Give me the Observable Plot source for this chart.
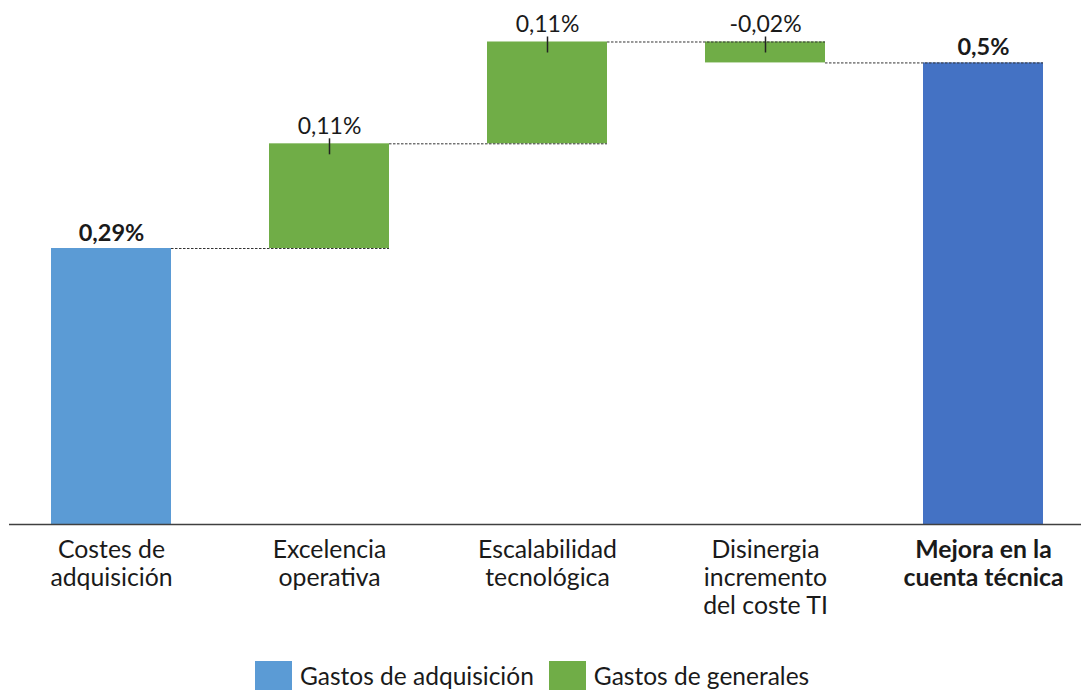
<!DOCTYPE html>
<html>
<head>
<meta charset="utf-8">
<script src="https://cdn.jsdelivr.net/npm/d3@7"></script>
<script src="https://cdn.jsdelivr.net/npm/@observablehq/plot@0.6"></script>
<style>
  html, body { margin: 0; padding: 0; background: #fff; }
  body { width: 1081px; height: 691px; overflow: hidden; font-family: Lato, "Open Sans", sans-serif; }
  #legend { display: flex; align-items: center; margin-left: 255px; height: 29px; padding-top: 21px; font-size: 24.5px; color: #1a1a1a; }
  .sw { width: 37px; height: 29px; display: inline-block; margin-right: 8px; }
  .item { display: flex; align-items: center; margin-right: 15px; }
</style>
</head>
<body>
<div id="chart"></div>
<div id="legend"></div>
<script>
const categories = ["Costes de adquisición", "Excelencia operativa", "Escalabilidad tecnológica", "Disinergia incremento del coste TI", "Mejora en la cuenta técnica"];
const tickLabels = ["Costes de\nadquisición", "Excelencia\noperativa", "Escalabilidad\ntecnológica", "Disinergia\nincremento\ndel coste TI", "Mejora en la\ncuenta técnica"];
const values = [0.29, 0.11, 0.107, -0.022, 0.485];
const valueLabels = ["0,29%", "0,11%", "0,11%", "-0,02%", "0,5%"];
const kinds = ["start", "step", "step", "step", "total"];
const legendNames = ["Gastos de adquisición", "Gastos de generales"];
const colors = {start: "#5B9BD5", step: "#70AD47", total: "#4472C4"};

// build waterfall rows
let cum = 0;
const rows = categories.map((c, i) => {
  const k = kinds[i];
  let y1, y2;
  if (k === "total") { y1 = 0; y2 = values[i]; cum = values[i]; }
  else if (k === "start") { y1 = 0; y2 = values[i]; cum = values[i]; }
  else { y1 = cum; y2 = cum + values[i]; cum = y2; }
  return {cat: c, tick: tickLabels[i], label: valueLabels[i], kind: k, y1, y2, top: Math.max(y1, y2), end: cum, color: colors[k]};
});
const connectors = rows.slice(0, -1).map((r, i) => ({from: r.cat, to: rows[i + 1].cat, level: r.end}));

const W = 1081, H = 640;
const chart = Plot.plot({
  width: W,
  height: H,
  marginTop: 0,
  marginBottom: 116,
  marginLeft: 9,
  marginRight: 0,
  style: {fontFamily: "Lato, 'Open Sans', sans-serif", color: "#1a1a1a", background: "#fff"},
  x: {domain: categories, range: [50, 1043], paddingInner: 0.45, paddingOuter: 0, axis: null},
  y: {domain: [0, 0.5506], axis: null},
  marks: [
    Plot.barY(rows, {x: "cat", y1: "y1", y2: "y2", fill: "color"}),
    Plot.ruleY(connectors, {x1: "from", x2: "to", y: "level", stroke: "#333", strokeWidth: 1, strokeDasharray: "2.5,1.5", insetLeft: 120}),
    Plot.ruleX(rows.filter(r => r.kind === "step"), {x: "cat", y1: "top", y2: "top", insetTop: 11, insetBottom: 5, stroke: "#222", strokeWidth: 1.5}),
    Plot.ruleY([0], {stroke: "#404040", strokeWidth: 1.5}),
    Plot.text(rows.filter(r => r.kind !== "step"), {x: "cat", y: "top", text: "label", dy: -8, lineAnchor: "bottom", fontSize: 23.5, fontWeight: "bold", fill: "#1a1a1a"}),
    Plot.text(rows.filter(r => r.kind === "step"), {x: "cat", y: "top", text: "label", dy: -10, lineAnchor: "bottom", fontSize: 23, fill: "#1a1a1a"}),
    Plot.text(rows.filter(r => r.kind !== "total"), {x: "cat", frameAnchor: "bottom", text: "tick", dy: 14, lineAnchor: "top", lineHeight: 1.13, fontSize: 24.8, fill: "#1a1a1a"}),
    Plot.text(rows.filter(r => r.kind === "total"), {x: "cat", frameAnchor: "bottom", text: "tick", dy: 14, lineAnchor: "top", lineHeight: 1.13, fontSize: 24.8, fontWeight: "bold", fill: "#1a1a1a"})
  ]
});
document.getElementById("chart").appendChild(chart);

const legend = document.getElementById("legend");
[["start", legendNames[0]], ["step", legendNames[1]]].forEach(([k, name]) => {
  const item = document.createElement("div");
  item.className = "item";
  const sw = document.createElement("span");
  sw.className = "sw";
  sw.style.background = colors[k];
  const t = document.createElement("span");
  t.textContent = name;
  item.appendChild(sw); item.appendChild(t);
  legend.appendChild(item);
});
</script>
</body>
</html>
